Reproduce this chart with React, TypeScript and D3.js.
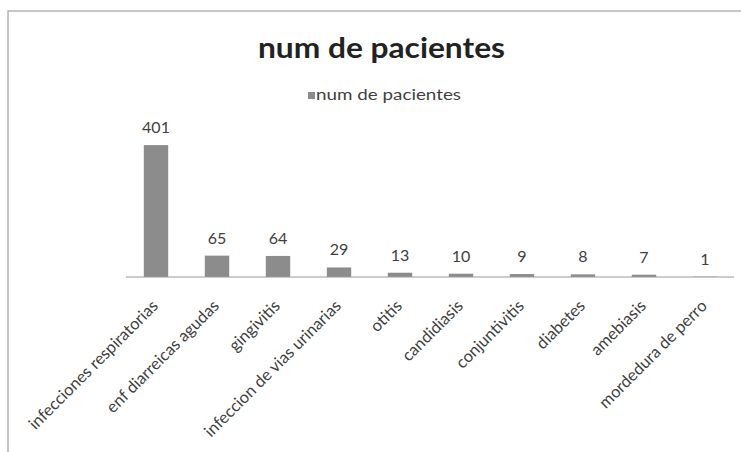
import React from "react";
import * as d3 from "d3";

const categories = [
  "infecciones respiratorias",
  "enf diarreicas agudas",
  "gingivitis",
  "infeccion de vias urinarias",
  "otitis",
  "candidiasis",
  "conjuntivitis",
  "diabetes",
  "amebiasis",
  "mordedura de perro",
];
const values = [401, 65, 64, 29, 13, 10, 9, 8, 7, 1];
const seriesName = "num de pacientes";
const titleText = "num de pacientes";

const W = 741;
const H = 452;
const FONT = "Lato, 'Open Sans', sans-serif";

export default function App() {
  const x = d3
    .scaleBand<string>()
    .domain(categories)
    .range([125.5, 735.5])
    .paddingInner(0.6)
    .paddingOuter(0.3);
  const y = d3.scaleLinear().domain([0, 450]).range([277, 129]);
  const bw = x.bandwidth();

  return (
    <svg
      width={W}
      height={H}
      style={{ position: "absolute", left: 0, top: 0, background: "#fff" }}
    >
      <rect x={0} y={0} width={W} height={H} fill="#fff" />
      <rect
        x={8}
        y={11}
        width={W + 20}
        height={H + 20}
        fill="#fff"
        stroke="#b4b4b4"
        strokeWidth={1.5}
      />
      <text
        x={381.5}
        y={58}
        textAnchor="middle"
        fontFamily={FONT}
        fontWeight={700}
        fontSize={29}
        fill="#222"
        textLength={247}
        lengthAdjust="spacingAndGlyphs"
      >
        {titleText}
      </text>
      <rect x={308} y={92} width={7} height={7} fill="#8c8c8c" />
      <text
        x={316}
        y={100}
        fontFamily={FONT}
        fontSize={14.5}
        fill="#404040"
        textLength={145}
        lengthAdjust="spacingAndGlyphs"
      >
        {seriesName}
      </text>
      {categories.map((c, i) => (
        <rect
          key={"b" + c}
          x={x(c)}
          y={y(values[i])}
          width={bw}
          height={y(0) - y(values[i])}
          fill="#8c8c8c"
        />
      ))}
      <line x1={126} x2={734} y1={y(0)} y2={y(0)} stroke="#9a9a9a" strokeWidth={1.2} />
      {categories.map((c, i) => (
        <text
          key={"v" + c}
          x={(x(c) as number) + bw / 2}
          y={y(values[i]) - 12}
          textAnchor="middle"
          fontFamily={FONT}
          fontSize={16}
          fill="#404040"
        >
          {values[i]}
        </text>
      ))}
      {categories.map((c) => {
        const cx = (x(c) as number) + bw / 2;
        return (
          <text
            key={"c" + c}
            transform={`translate(${cx + 3},${307}) rotate(-45)`}
            textAnchor="end"
            fontFamily={FONT}
            fontSize={16.5}
            fill="#404040"
          >
            {c}
          </text>
        );
      })}
    </svg>
  );
}
